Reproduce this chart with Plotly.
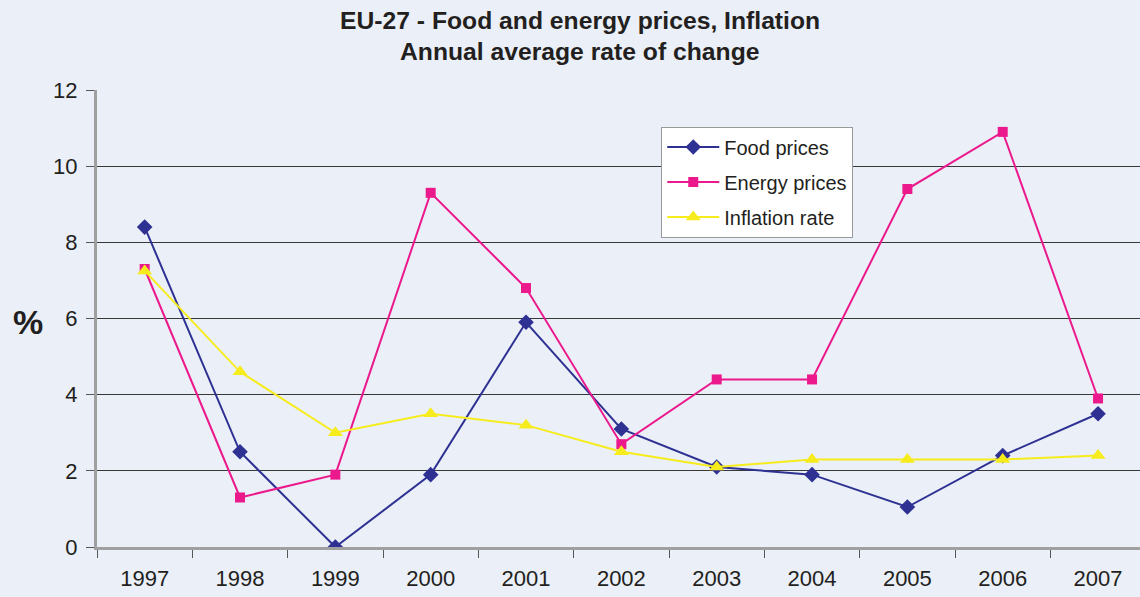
import plotly.graph_objects as go

years = ["1997", "1998", "1999", "2000", "2001", "2002", "2003", "2004", "2005", "2006", "2007"]
food_prices = [8.4, 2.5, 0.0, 1.9, 5.9, 3.1, 2.1, 1.9, 1.05, 2.4, 3.5]
energy_prices = [7.3, 1.3, 1.9, 9.3, 6.8, 2.7, 4.4, 4.4, 9.4, 10.9, 3.9]
inflation_rate = [7.25, 4.6, 3.0, 3.5, 3.2, 2.5, 2.1, 2.3, 2.3, 2.3, 2.4]
y_ticks = [0, 2, 4, 6, 8, 10, 12]
title_lines = ["EU-27 - Food and energy prices, Inflation", "Annual average rate of change"]

BG = "#eaeff8"
FONT = "Liberation Sans, Arial, sans-serif"
TXT = "#231f20"

fig = go.Figure()
fig.add_trace(go.Scatter(x=years, y=food_prices, name="Food prices", mode="lines+markers",
                         legendgroup="a",
                         line=dict(color="#2e3192", width=2),
                         marker=dict(symbol="diamond", size=12, color="#2e3192")))
fig.add_trace(go.Scatter(x=years, y=energy_prices, name="Energy prices", mode="lines+markers",
                         legendgroup="b",
                         line=dict(color="#ec198c", width=2),
                         marker=dict(symbol="square", size=10, color="#ec198c")))
fig.add_trace(go.Scatter(x=years, y=inflation_rate, name="Inflation rate", mode="lines+markers",
                         legendgroup="c",
                         line=dict(color="#f7ec1b", width=2),
                         marker=dict(symbol="triangle-up", size=13, color="#f7ec1b")))

fig.add_annotation(text="<b>" + title_lines[0] + "</b>", xref="paper", yref="paper",
                   x=0.463, y=1 + (90 - 20) / 457, xanchor="center", yanchor="middle",
                   showarrow=False, font=dict(family=FONT, size=24.7, color=TXT))
fig.add_annotation(text="<b>" + title_lines[1] + "</b>", xref="paper", yref="paper",
                   x=0.463, y=1 + (90 - 52) / 457, xanchor="center", yanchor="middle",
                   showarrow=False, font=dict(family=FONT, size=24.7, color=TXT))
fig.add_annotation(text="<b>%</b>", xref="paper", yref="paper",
                   x=(28 - 97) / 1043, y=(547 - 322) / 457, xanchor="center", yanchor="middle",
                   showarrow=False, font=dict(family=FONT, size=34, color=TXT))

fig.update_layout(
    width=1140, height=597,
    paper_bgcolor=BG, plot_bgcolor=BG,
    margin=dict(l=97, r=0, t=90, b=50),
    font=dict(family=FONT, size=22, color=TXT),
    showlegend=True,
    legend=dict(x=0.541, y=0.92, xanchor="left", yanchor="top",
                bgcolor="#ffffff", bordercolor="#999999", borderwidth=1,
                font=dict(family=FONT, size=20, color=TXT),
                itemwidth=52, tracegroupgap=6),
    xaxis=dict(type="category", range=[-0.5, 10.44], showgrid=False,
               showline=True, linecolor="#a0a0a0", linewidth=3,
               ticks="outside", tickson="boundaries", ticklen=8, tickcolor="#555555", tickwidth=1,
               tickfont=dict(size=22), ticklabelstandoff=10, fixedrange=True),
    yaxis=dict(range=[0, 12], tickvals=y_ticks, showgrid=True, gridcolor="#383838", gridwidth=1,
               zeroline=False, showline=True, linecolor="#a0a0a0", linewidth=3,
               ticks="outside", ticklen=8, tickcolor="#555555", tickwidth=1,
               tickfont=dict(size=22), ticklabelstandoff=4),
)

fig.write_html("out.html", config={"displayModeBar": False},
               post_script="document.body.style.margin='0px';")
